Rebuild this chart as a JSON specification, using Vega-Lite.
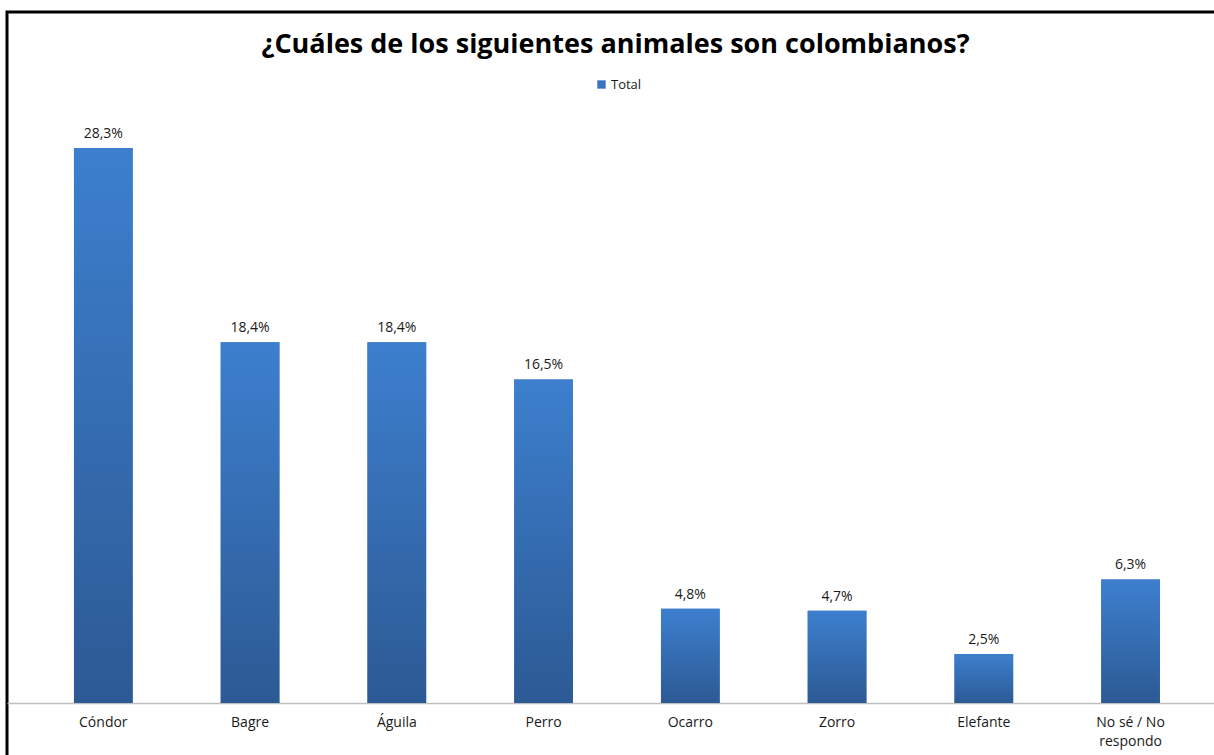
{
  "$schema": "https://vega.github.io/schema/vega-lite/v6.json",
  "autosize": {"type": "none"},
  "padding": {"left": 7, "top": 12, "right": -10, "bottom": -10},
  "width": 1217,
  "height": 753,
  "background": "white",
  "config": {
    "view": {"stroke": "black", "strokeWidth": 3},
    "locale": {"number": {"decimal": ",", "thousands": ".", "grouping": [3], "currency": ["", " €"]}},
    "font": "Open Sans"
  },
  "title": {
    "text": "¿Cuáles de los siguientes animales son colombianos?",
    "font": "Open Sans",
    "fontSize": 27,
    "fontWeight": "bold",
    "color": "black",
    "anchor": "middle",
    "baseline": "middle",
    "offset": -60
  },
  "data": {
    "values": [
      {"animal": "Cóndor", "valor": 0.283, "serie": "Total"},
      {"animal": "Bagre", "valor": 0.184, "serie": "Total"},
      {"animal": "Águila", "valor": 0.184, "serie": "Total"},
      {"animal": "Perro", "valor": 0.165, "serie": "Total"},
      {"animal": "Ocarro", "valor": 0.048, "serie": "Total"},
      {"animal": "Zorro", "valor": 0.047, "serie": "Total"},
      {"animal": "Elefante", "valor": 0.025, "serie": "Total"},
      {"animal": "No sé / No respondo", "valor": 0.063, "serie": "Total"}
    ]
  },
  "encoding": {
    "x": {
      "field": "animal",
      "type": "nominal",
      "sort": null,
      "scale": {"paddingInner": 0.6, "paddingOuter": 0.4465, "align": 0.511},
      "axis": {
        "title": null,
        "orient": "bottom",
        "offset": -62,
        "labelAngle": 0,
        "ticks": false,
        "grid": false,
        "domainColor": "#BFBFBF",
        "domainWidth": 1.5,
        "labelFont": "Open Sans",
        "labelFontSize": 14,
        "labelColor": "#1a1a1a",
        "labelPadding": 12,
        "labelLineHeight": 19,
        "labelExpr": "datum.label == 'No sé / No respondo' ? ['No sé / No', 'respondo'] : datum.label"
      }
    },
    "y": {
      "field": "valor",
      "type": "quantitative",
      "stack": null,
      "scale": {"domain": [-0.031617, 0.35237], "nice": false},
      "axis": null
    }
  },
  "layer": [
    {
      "mark": {"type": "bar"},
      "encoding": {
        "color": {
          "field": "serie",
          "type": "nominal",
          "scale": {"range": ["#3A72C0"]},
          "legend": {
            "title": null,
            "orient": "none",
            "legendX": 588,
            "legendY": 66,
            "symbolType": "square",
            "symbolSize": 70,
            "symbolStrokeWidth": 0,
            "labelFont": "Open Sans",
            "labelFontSize": 13,
            "labelColor": "#1a1a1a",
            "labelOffset": 3
          }
        }
      }
    },
    {
      "mark": {
        "type": "bar",
        "color": {
          "gradient": "linear",
          "x1": 0, "y1": 0, "x2": 0, "y2": 1,
          "stops": [
            {"offset": 0, "color": "#3D7FCE"},
            {"offset": 1, "color": "#2C5A94"}
          ]
        }
      },
      "encoding": {}
    },
    {
      "mark": {"type": "text", "baseline": "bottom", "dy": -7, "fontSize": 14, "font": "Open Sans", "color": "#1a1a1a"},
      "encoding": {
        "text": {"field": "valor", "type": "quantitative", "format": ".1%"}
      }
    }
  ]
}
